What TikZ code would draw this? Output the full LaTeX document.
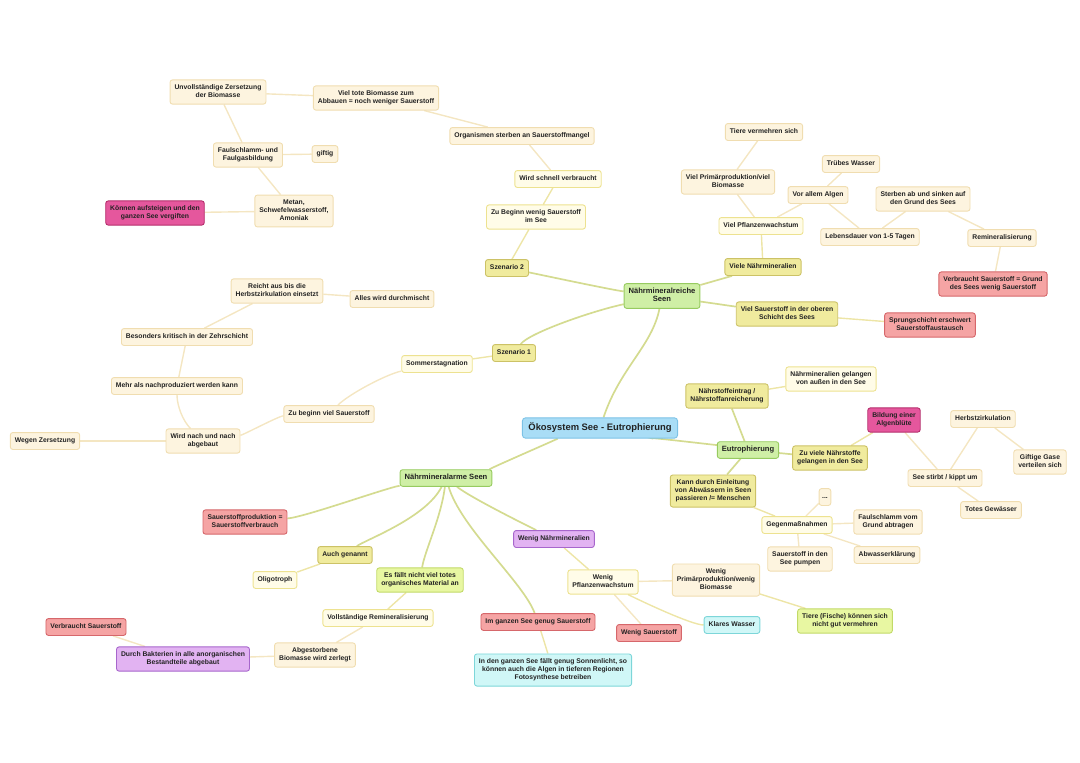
\documentclass[tikz,border=0pt]{standalone}
\usepackage{fontspec}
\setmainfont{Liberation Sans}
\usetikzlibrary{backgrounds}
\definecolor{txt}{HTML}{222222}
\definecolor{creamF}{HTML}{FDF4DF}\definecolor{creamD}{HTML}{F0DDB0}
\definecolor{pyelF}{HTML}{FFFCE8}\definecolor{pyelD}{HTML}{EDE290}
\definecolor{oliveF}{HTML}{F0EB9E}\definecolor{oliveD}{HTML}{CCC266}
\definecolor{greenF}{HTML}{CFEFA6}\definecolor{greenD}{HTML}{97CB60}
\definecolor{lgreenF}{HTML}{E8F7A2}\definecolor{lgreenD}{HTML}{C2DA68}
\definecolor{blueF}{HTML}{A9DDF6}\definecolor{blueD}{HTML}{7CC2E6}
\definecolor{redF}{HTML}{F5A4A4}\definecolor{redD}{HTML}{D6676B}
\definecolor{magF}{HTML}{E5579D}\definecolor{magD}{HTML}{B52F6C}
\definecolor{purF}{HTML}{E2B3F2}\definecolor{purD}{HTML}{A766CC}
\definecolor{cyanF}{HTML}{D0F7F7}\definecolor{cyanD}{HTML}{7DD6D9}
\definecolor{eG}{HTML}{D4DB90}\definecolor{eY}{HTML}{EDE5A6}\definecolor{eC}{HTML}{F4E6C2}
\tikzset{
  box/.style={rounded corners=2.5pt, line width=0.9pt, align=center, inner xsep=4.5pt, inner ysep=4.5pt,
    font=\fontsize{6.8}{7.9}\selectfont\bfseries, text=txt,
    execute at begin node=\strut, execute at end node=\strut},
  cream/.style={box, fill=creamF, draw=creamD},
  pyel/.style={box, fill=pyelF, draw=pyelD},
  olive/.style={box, fill=oliveF, draw=oliveD},
  grn/.style={box, fill=greenF, draw=greenD, font=\fontsize{7.6}{8.6}\selectfont\bfseries, inner ysep=4pt},
  lgrn/.style={box, fill=lgreenF, draw=lgreenD},
  blu/.style={box, fill=blueF, draw=blueD, font=\fontsize{9.4}{10.8}\selectfont\bfseries, inner ysep=4.5pt, inner xsep=6pt, rounded corners=3pt},
  rd/.style={box, fill=redF, draw=redD},
  mag/.style={box, fill=magF, draw=magD},
  pur/.style={box, fill=purF, draw=purD},
  cyn/.style={box, fill=cyanF, draw=cyanD},
  eg/.style={draw=eG, line width=1.7pt},
  ey/.style={draw=eY, line width=1.4pt},
  ec/.style={draw=eC, line width=1.4pt},
}
\begin{document}
\begin{tikzpicture}[x=1pt,y=-1pt]
\useasboundingbox (0,0) rectangle (1080,763);
% ---------- center and main branches
\node[blu] (c) at (600,428) {Ökosystem See - Eutrophierung};
\node[grn] (nr) at (662,296) {Nährmineralreiche\\Seen};
\node[grn] (eu) at (748,450) {Eutrophierung};
\node[grn] (na) at (446,478) {Nährmineralarme Seen};
% ---------- Szenario 2 cluster
\node[cream] (unv) at (218,92) {Unvollständige Zersetzung\\der Biomasse};
\node[cream] (tote) at (376,98) {Viel tote Biomasse zum\\Abbauen = noch weniger Sauerstoff};
\node[cream] (org) at (522,136) {Organismen sterben an Sauerstoffmangel};
\node[pyel] (wsv) at (558,179) {Wird schnell verbraucht};
\node[pyel] (zbw) at (536,217) {Zu Beginn wenig Sauerstoff\\im See};
\node[olive] (sz2) at (507,268) {Szenario 2};
\node[cream] (faul) at (248,155) {Faulschlamm- und\\Faulgasbildung};
\node[cream] (gift) at (325,154) {giftig};
\node[cream] (met) at (294,211) {Metan,\\Schwefelwasserstoff,\\Amoniak};
\node[mag] (kaa) at (155,213) {Können aufsteigen und den\\ganzen See vergiften};
% ---------- top right
\node[olive] (vnm) at (763,267) {Viele Nährmineralien};
\node[pyel] (vpw) at (761,226) {Viel Pflanzenwachstum};
\node[cream] (vpp) at (728,182) {Viel Primärproduktion/viel\\Biomasse};
\node[cream] (tvs) at (764,132) {Tiere vermehren sich};
\node[cream] (val) at (818,195) {Vor allem Algen};
\node[cream] (tw) at (851,164) {Trübes Wasser};
\node[cream] (leb) at (870,237) {Lebensdauer von 1-5 Tagen};
\node[cream] (sab) at (923,199) {Sterben ab und sinken auf\\den Grund des Sees};
\node[cream] (rem) at (1002,238) {Remineralisierung};
\node[rd] (vsg) at (993,284) {Verbraucht Sauerstoff = Grund\\des Sees wenig Sauerstoff};
\node[olive] (vso) at (787,314) {Viel Sauerstoff in der oberen\\Schicht des Sees};
\node[rd] (spr) at (930,325) {Sprungschicht erschwert\\Sauerstoffaustausch};
% ---------- Szenario 1 cluster
\node[olive] (sz1) at (514,353) {Szenario 1};
\node[pyel] (som) at (437,364) {Sommerstagnation};
\node[cream] (zbv) at (329,414) {Zu beginn viel Sauerstoff};
\node[cream] (wna) at (203,441) {Wird nach und nach\\abgebaut};
\node[cream] (wz) at (45,441) {Wegen Zersetzung};
\node[cream] (mal) at (177,386) {Mehr als nachproduziert werden kann};
\node[cream] (bkz) at (187,337) {Besonders kritisch in der Zehrschicht};
\node[cream] (rab) at (277,291) {Reicht aus bis die\\Herbstzirkulation einsetzt};
\node[cream] (awd) at (392,299) {Alles wird durchmischt};
% ---------- Eutrophierung cluster
\node[olive] (nei) at (727,396) {Nährstoffeintrag /\\Nährstoffanreicherung};
\node[pyel] (nga) at (831,379) {Nährmineralien gelangen\\von außen in den See};
\node[olive] (zvn) at (830,458) {Zu viele Nährstoffe\\gelangen in den See};
\node[mag] (bal) at (894,420) {Bildung einer\\Algenblüte};
\node[cream] (sst) at (945,478) {See stirbt / kippt um};
\node[cream] (hz) at (983,419) {Herbstzirkulation};
\node[cream] (ggv) at (1040,462) {Giftige Gase\\verteilen sich};
\node[cream] (tg) at (991,510) {Totes Gewässer};
\node[olive] (kde) at (713,491) {Kann durch Einleitung\\von Abwässern in Seen\\passieren /= Menschen};
\node[pyel] (gm) at (797,525) {Gegenmaßnahmen};
\node[cream, inner xsep=3pt] (dots) at (825,497) {...};
\node[cream] (fva) at (888,522) {Faulschlamm vom\\Grund abtragen};
\node[cream] (awk) at (887,555) {Abwasserklärung};
\node[cream] (sip) at (800,559) {Sauerstoff in den\\See pumpen};
% ---------- Naehrmineralarme cluster
\node[rd] (spv) at (245,522) {Sauerstoffproduktion =\\Sauerstoffverbrauch};
\node[olive] (ag) at (345,555) {Auch genannt};
\node[pyel] (oli) at (275,580) {Oligotroph};
\node[lgrn] (efn) at (420,580) {Es fällt nicht viel totes\\organisches Material an};
\node[pyel] (vrm) at (378,618) {Vollständige Remineralisierung};
\node[cream] (abz) at (315,655) {Abgestorbene\\Biomasse wird zerlegt};
\node[pur] (dba) at (183,659) {Durch Bakterien in alle anorganischen\\Bestandteile abgebaut};
\node[rd] (vs) at (86,627) {Verbraucht Sauerstoff};
\node[pur] (wnm) at (554,539) {Wenig Nährmineralien};
\node[pyel] (wpw) at (603,582) {Wenig\\Pflanzenwachstum};
\node[cream] (wpp) at (716,580) {Wenig\\Primärproduktion/wenig\\Biomasse};
\node[lgrn] (tfk) at (845,621) {Tiere (Fische) können sich\\nicht gut vermehren};
\node[cyn] (klw) at (732,625) {Klares Wasser};
\node[rd] (wsa) at (649,633) {Wenig Sauerstoff};
\node[rd] (igs) at (538,622) {Im ganzen See genug Sauerstoff};
\node[cyn] (idg) at (553,670) {In den ganzen See fällt genug Sonnenlicht, so\\können auch die Algen in tieferen Regionen\\Fotosynthese betreiben};
% ---------- connectors
\begin{pgfonlayer}{background}
% main
\draw[eg] (c) .. controls +(20,-60) and +(-10,50) .. (nr);
\draw[eg] (c) .. controls +(40,8) and +(-25,-4) .. (eu);
\draw[eg] (c) .. controls +(-40,10) and +(40,-8) .. (na);
% Naehrmineralreiche
\draw[eg] (nr) .. controls +(-50,-6) and +(30,6) .. (sz2);
\draw[eg] (nr) .. controls +(-70,15) and +(15,-20) .. (sz1);
\draw[eg] (nr) -- (vnm);
\draw[eg] (nr) -- (vso);
\draw[ey] (sz2) -- (zbw);
\draw[ey] (zbw) -- (wsv);
\draw[ec] (wsv) -- (org);
\draw[ec] (org) -- (tote);
\draw[ec] (tote) -- (unv);
\draw[ec] (unv) -- (faul);
\draw[ec] (faul) -- (gift);
\draw[ec] (faul) -- (met);
\draw[ec] (met) -- (kaa);
\draw[ey] (vnm) -- (vpw);
\draw[ec] (vpw) -- (vpp);
\draw[ec] (vpp) -- (tvs);
\draw[ec] (vpw) -- (val);
\draw[ec] (val) -- (tw);
\draw[ec] (val) -- (leb);
\draw[ec] (leb) -- (sab);
\draw[ec] (sab) -- (rem);
\draw[ec] (rem) -- (vsg);
\draw[ey] (vso) -- (spr);
% Szenario 1
\draw[ey] (sz1) -- (som);
\draw[ec] (som) .. controls +(-50,10) and +(20,-20) .. (zbv);
\draw[ec] (zbv) .. controls +(-50,2) and +(40,-6) .. (wna);
\draw[ec] (wna) -- (wz);
\draw[ec] (wna) .. controls +(-20,-20) and +(0,20) .. (mal);
\draw[ec] (mal) -- (bkz);
\draw[ec] (bkz) -- (rab);
\draw[ec] (rab) -- (awd);
% Eutrophierung
\draw[eg] (eu) -- (nei);
\draw[ey] (nei) -- (nga);
\draw[eg] (eu) -- (zvn);
\draw[ey] (zvn) -- (bal);
\draw[ec] (bal) -- (sst);
\draw[ec] (sst) -- (hz);
\draw[ec] (hz) -- (ggv);
\draw[ec] (sst) -- (tg);
\draw[eg] (eu) -- (kde);
\draw[ey] (kde) -- (gm);
\draw[ec] (gm) -- (dots);
\draw[ec] (gm) -- (fva);
\draw[ec] (gm) -- (awk);
\draw[ec] (gm) -- (sip);
% Naehrmineralarme
\draw[eg] (na) .. controls +(-60,10) and +(60,-5) .. (spv);
\draw[eg] (na) .. controls +(-20,40) and +(20,-15) .. (ag);
\draw[ey] (ag) -- (oli);
\draw[eg] (na) .. controls +(-5,40) and +(5,-30) .. (efn);
\draw[ey] (efn) -- (vrm);
\draw[ec] (vrm) -- (abz);
\draw[ec] (abz) -- (dba);
\draw[ec] (dba) -- (vs);
\draw[eg] (na) .. controls +(25,20) and +(-20,-10) .. (wnm);
\draw[ey] (wnm) -- (wpw);
\draw[ec] (wpw) -- (wpp);
\draw[ey] (wpp) -- (tfk);
\draw[ey] (wpw) .. controls +(40,20) and +(-40,0) .. (klw);
\draw[ec] (wpw) -- (wsa);
\draw[eg] (na) .. controls +(15,50) and +(-15,-40) .. (igs);
\draw[ey] (igs) -- (idg);
\end{pgfonlayer}
\end{tikzpicture}
\end{document}
